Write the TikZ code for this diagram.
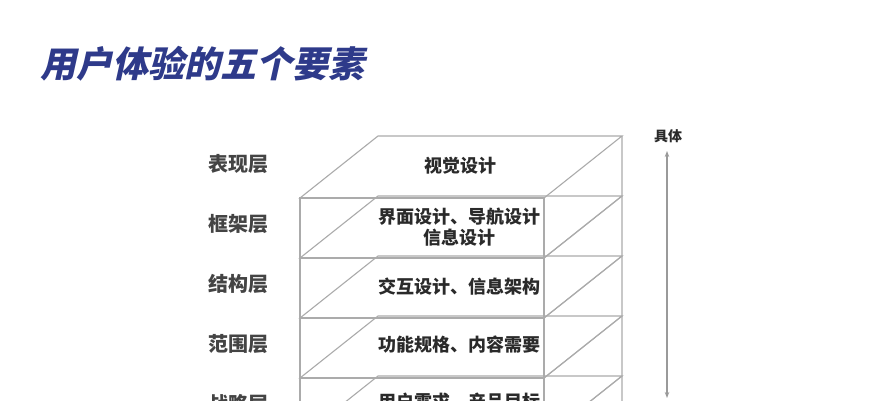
\documentclass[tikz,border=0pt]{standalone}
\usepackage{fontspec}
\usetikzlibrary{arrows.meta}
\newfontfamily\cjk{Noto Sans CJK SC}
\newfontfamily\cjktitle[FakeSlant=0.22]{Noto Sans CJK SC}
\definecolor{titleblue}{HTML}{2E3A8A}
\definecolor{linegray}{HTML}{ABABAB}
\definecolor{arrowgray}{HTML}{9A9A9A}
\definecolor{txtdark}{HTML}{2A2A2A}
\definecolor{lbldark}{HTML}{444444}
\tikzset{
  boxedge/.style={draw=linegray, line width=1.1pt, line join=miter},
  boxtext/.style={font=\cjk\bfseries\fontsize{18}{21}\selectfont, text=txtdark, align=center, inner sep=0pt},
  lbltext/.style={font=\cjk\bfseries\fontsize{20}{24}\selectfont, text=lbldark, inner sep=0pt},
}
\begin{document}
\begin{tikzpicture}[x=1pt,y=-1pt]
\useasboundingbox (0,0) rectangle (889,400);
\clip (0,0) rectangle (889,400);
\fill[white] (0,0) rectangle (889,400);
% title
\node[font=\cjktitle\bfseries\fontsize{36}{40}\selectfont, text=titleblue, anchor=west, inner sep=0pt] (title) at (40,64) {用户体验的五个要素};
% boxes, bottom first
\foreach \i in {4,3,2,1,0}{
  \pgfmathsetmacro\yf{198+60*\i}
  \pgfmathsetmacro\yb{\yf-62}
  \pgfmathsetmacro\yd{\yf+60}
  \pgfmathsetmacro\ye{\yf-2}
  \draw[boxedge] (300,\yf) -- (544,\yf) -- (622,\yb) -- (378,\yb) -- cycle;
  \draw[boxedge] (300,\yf) rectangle (544,\yd);
  \draw[boxedge] (544,\yd) -- (622,\ye) -- (622,\yb);
}
% layer texts
\node[boxtext] (t0) at (460,166) {视觉设计};
\node[boxtext] (t1) at (459,227) {界面设计、导航设计\\信息设计};
\node[boxtext] (t2) at (459,287) {交互设计、信息架构};
\node[boxtext] (t3) at (459,345) {功能规格、内容需要};
\node[boxtext] (t4) at (459,402) {用户需求、产品目标};
% left labels
\node[lbltext] (l0) at (238,164) {表现层};
\node[lbltext] (l1) at (238,224) {框架层};
\node[lbltext] (l2) at (238,284) {结构层};
\node[lbltext] (l3) at (238,344) {范围层};
\node[lbltext] (l4) at (238,404) {战略层};
% arrow
\node[font=\cjk\bfseries\fontsize{14}{16}\selectfont, text=txtdark, inner sep=0pt] (concrete) at (668,136) {具体};
\coordinate (atop) at (667,151);
\coordinate (abot) at (667,398);
\draw[arrowgray, line width=1.4pt, {Stealth[length=6pt,width=4.5pt]}-{Stealth[length=6pt,width=4.5pt]}] (atop) -- (abot);
\end{tikzpicture}
\end{document}
